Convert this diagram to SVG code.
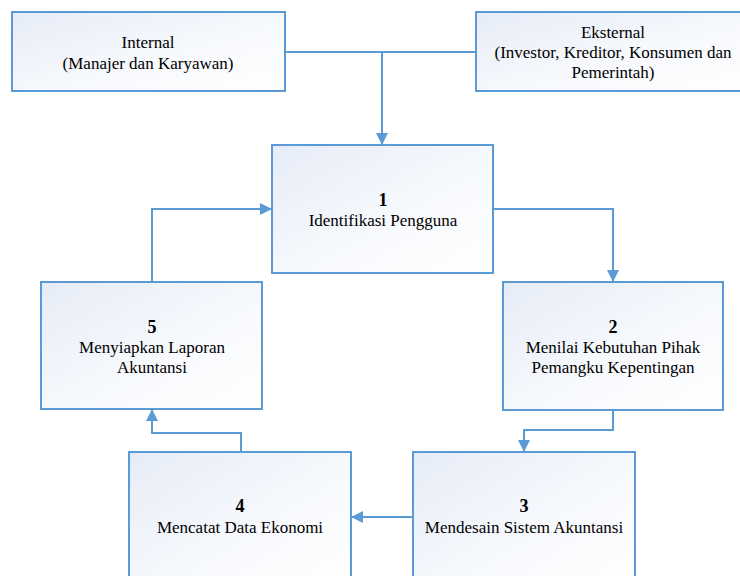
<svg xmlns="http://www.w3.org/2000/svg" width="740" height="576" viewBox="0 0 740 576">
<style>
.box{fill:url(#g);stroke:#5B9BD5;stroke-width:2}
.t{font-family:"Liberation Serif","Times New Roman",serif;font-size:17px;fill:#000;text-anchor:middle}
.n{font-weight:bold;font-size:18px}
.c{fill:none;stroke:#5B9BD5;stroke-width:2}
</style>
<defs>
<linearGradient id="g" x1="0" y1="0" x2="1" y2="1">
<stop offset="0" stop-color="#E6ECF7"/>
<stop offset="0.6" stop-color="#F8FAFD"/>
<stop offset="1" stop-color="#FFFFFF"/>
</linearGradient>
<marker id="a" viewBox="0 0 12 12" refX="12" refY="6" markerWidth="12" markerHeight="12" markerUnits="userSpaceOnUse" orient="auto">
<path d="M0,0 L12,6 L0,12 Z" fill="#5B9BD5"/>
</marker>
</defs>
<g id="connectors">
<path class="c" d="M285,52 H476"/>
<path class="c" d="M382,52 V145" marker-end="url(#a)"/>
<path class="c" d="M493,209 H613 V282" marker-end="url(#a)"/>
<path class="c" d="M613,410 V430 H524 V452" marker-end="url(#a)"/>
<path class="c" d="M413,517 H351" marker-end="url(#a)"/>
<path class="c" d="M241,452 V433 H152 V409" marker-end="url(#a)"/>
<path class="c" d="M152,282 V209 H272" marker-end="url(#a)"/>
</g>
<g id="internal">
<rect class="box" x="12" y="12" width="273" height="79"/>
<text class="t" x="148" y="48">Internal</text>
<text class="t" x="148" y="69">(Manajer dan Karyawan)</text>
</g>
<g id="eksternal">
<rect class="box" x="476" y="12" width="276" height="79"/>
<text class="t" x="613" y="38">Eksternal</text>
<text class="t" x="613" y="58">(Investor, Kreditor, Konsumen dan</text>
<text class="t" x="613" y="78">Pemerintah)</text>
</g>
<g id="node1">
<rect class="box" x="272" y="145" width="221" height="128"/>
<text class="t n" x="383" y="206">1</text>
<text class="t" x="383" y="226">Identifikasi Pengguna</text>
</g>
<g id="node2">
<rect class="box" x="503" y="282" width="220" height="128"/>
<text class="t n" x="613" y="333">2</text>
<text class="t" x="613" y="353">Menilai Kebutuhan Pihak</text>
<text class="t" x="613" y="373">Pemangku Kepentingan</text>
</g>
<g id="node3">
<rect class="box" x="413" y="452" width="222" height="140"/>
<text class="t n" x="524" y="512">3</text>
<text class="t" x="524" y="533">Mendesain Sistem Akuntansi</text>
</g>
<g id="node4">
<rect class="box" x="129" y="452" width="222" height="140"/>
<text class="t n" x="240" y="512">4</text>
<text class="t" x="240" y="533">Mencatat Data Ekonomi</text>
</g>
<g id="node5">
<rect class="box" x="41" y="282" width="221" height="127"/>
<text class="t n" x="152" y="333">5</text>
<text class="t" x="152" y="353">Menyiapkan Laporan</text>
<text class="t" x="152" y="373">Akuntansi</text>
</g>
</svg>
